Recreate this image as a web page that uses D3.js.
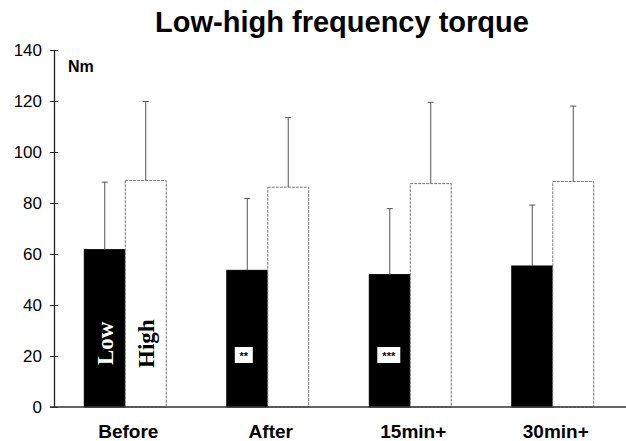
<!DOCTYPE html>
<html>
<head>
<meta charset="utf-8">
<script src="https://cdn.jsdelivr.net/npm/d3@7"></script>
<style>
  body { margin: 0; background: #fff; }
  svg { display: block; }
</style>
</head>
<body>
<svg id="svg" width="626" height="441"></svg>
<script>
// values (Nm)
const categories = ['Before', 'After', '15min+', '30min+'];
const series = ['Low', 'High'];
const lowMean = [61.7, 53.6, 51.9, 55.3];
const lowSD = [26.5, 28.2, 25.9, 23.9];
const highMean = [88.8, 86.2, 87.6, 88.4];
const highSD = [31.0, 27.3, 31.9, 29.6];
const yTicks = [0, 20, 40, 60, 80, 100, 120, 140];
const sigMarks = ['', '**', '***', ''];

const rows = [];
categories.forEach((c, i) => {
    rows.push({cat: c, s: 'Low', mean: lowMean[i], sd: lowSD[i], sig: sigMarks[i]});
    rows.push({cat: c, s: 'High', mean: highMean[i], sd: highSD[i], sig: ''});
});

const svg = d3.select('#svg');

const yScale = d3.scaleLinear()
    .domain([0, 140])
    .range([407, 50]);

const xScale = d3.scaleBand()
    .domain(categories)
    .range([54, 624])
    .paddingInner(0.425)
    .paddingOuter(0.2125);

const xSub = d3.scaleBand()
    .domain(series)
    .range([0, xScale.bandwidth()]);

// title
svg.append('text')
    .attr('x', 342)
    .attr('y', 32)
    .attr('text-anchor', 'middle')
    .attr('font-family', 'Liberation Sans, Arial, sans-serif')
    .attr('font-weight', 'bold')
    .attr('font-size', 29)
    .text('Low-high frequency torque');

// bars
const bars = svg.append('g');
bars.selectAll('rect')
    .data(rows)
    .enter()
    .append('rect')
    .attr('x', d => xScale(d.cat) + xSub(d.s))
    .attr('y', d => yScale(d.mean))
    .attr('width', xSub.bandwidth())
    .attr('height', d => yScale(0) - yScale(d.mean))
    .attr('fill', d => d.s === 'Low' ? '#000' : '#fff')
    .attr('stroke', d => d.s === 'Low' ? '#000' : '#777')
    .attr('stroke-width', 1)
    .attr('stroke-dasharray', d => d.s === 'Low' ? null : '3,1');

// error bars (upper only)
const err = svg.append('g').attr('stroke', '#555').attr('stroke-width', 1);
rows.forEach(d => {
    const cx = xScale(d.cat) + xSub(d.s) + xSub.bandwidth() / 2;
    err.append('line')
        .attr('x1', cx).attr('x2', cx)
        .attr('y1', yScale(d.mean)).attr('y2', yScale(d.mean + d.sd));
    err.append('line')
        .attr('x1', cx - 3).attr('x2', cx + 3)
        .attr('y1', yScale(d.mean + d.sd)).attr('y2', yScale(d.mean + d.sd));
});

// significance boxes inside low bars
rows.filter(d => d.sig).forEach(d => {
    const bx = xScale(d.cat) + xSub(d.s) + 8;
    const w = d.sig.length === 2 ? 18 : 23;
    const g = svg.append('g');
    g.append('rect')
        .attr('x', bx).attr('y', 347)
        .attr('width', w).attr('height', 16)
        .attr('fill', '#fff');
    g.append('text')
        .attr('x', bx + w / 2).attr('y', 360)
        .attr('text-anchor', 'middle')
        .attr('font-family', 'Liberation Sans, Arial, sans-serif')
        .attr('font-weight', 'bold')
        .attr('font-size', 11)
        .text(d.sig);
});

// series labels in the first group
series.forEach(s => {
    const cx = xScale(categories[0]) + xSub(s) + xSub.bandwidth() / 2;
    svg.append('text')
        .attr('transform', `translate(${cx + 8},${s === 'Low' ? 365 : 368}) rotate(-90)`)
        .attr('font-family', 'Liberation Serif, Times New Roman, serif')
        .attr('font-weight', 'bold')
        .attr('font-size', 23)
        .attr('fill', s === 'Low' ? '#fff' : '#000')
        .text(s);
});

// y axis
const yAxis = d3.axisLeft(yScale).tickValues(yTicks).tickSize(4).tickSizeOuter(0).tickPadding(8);
const ya = svg.append('g').attr('transform', 'translate(54,0)').call(yAxis);
ya.select('.domain').attr('stroke', '#222').attr('stroke-width', 1.3);
ya.selectAll('.tick line').attr('stroke', '#222');
ya.selectAll('.tick').append('line').attr('x2', 4).attr('stroke', '#222');
ya.selectAll('.tick text')
    .attr('font-family', 'Liberation Sans, Arial, sans-serif')
    .attr('font-size', 17)
    .attr('fill', '#000');

svg.append('text')
    .attr('x', 68).attr('y', 72)
    .attr('font-family', 'Liberation Sans, Arial, sans-serif')
    .attr('font-weight', 'bold')
    .attr('font-size', 16)
    .text('Nm');

// x axis
const xAxis = d3.axisBottom(xScale).tickSize(0).tickPadding(18);
const xa = svg.append('g').attr('transform', 'translate(0,407)').call(xAxis);
xa.select('.domain').remove();
xa.selectAll('.tick text')
    .attr('dx', 3)
    .attr('font-family', 'Liberation Sans, Arial, sans-serif')
    .attr('font-weight', 'bold')
    .attr('font-size', 19)
    .attr('fill', '#000');
svg.append('line')
    .attr('x1', 50).attr('x2', 626)
    .attr('y1', 407).attr('y2', 407)
    .attr('stroke', '#333').attr('stroke-width', 1.5);
</script>
</body>
</html>
